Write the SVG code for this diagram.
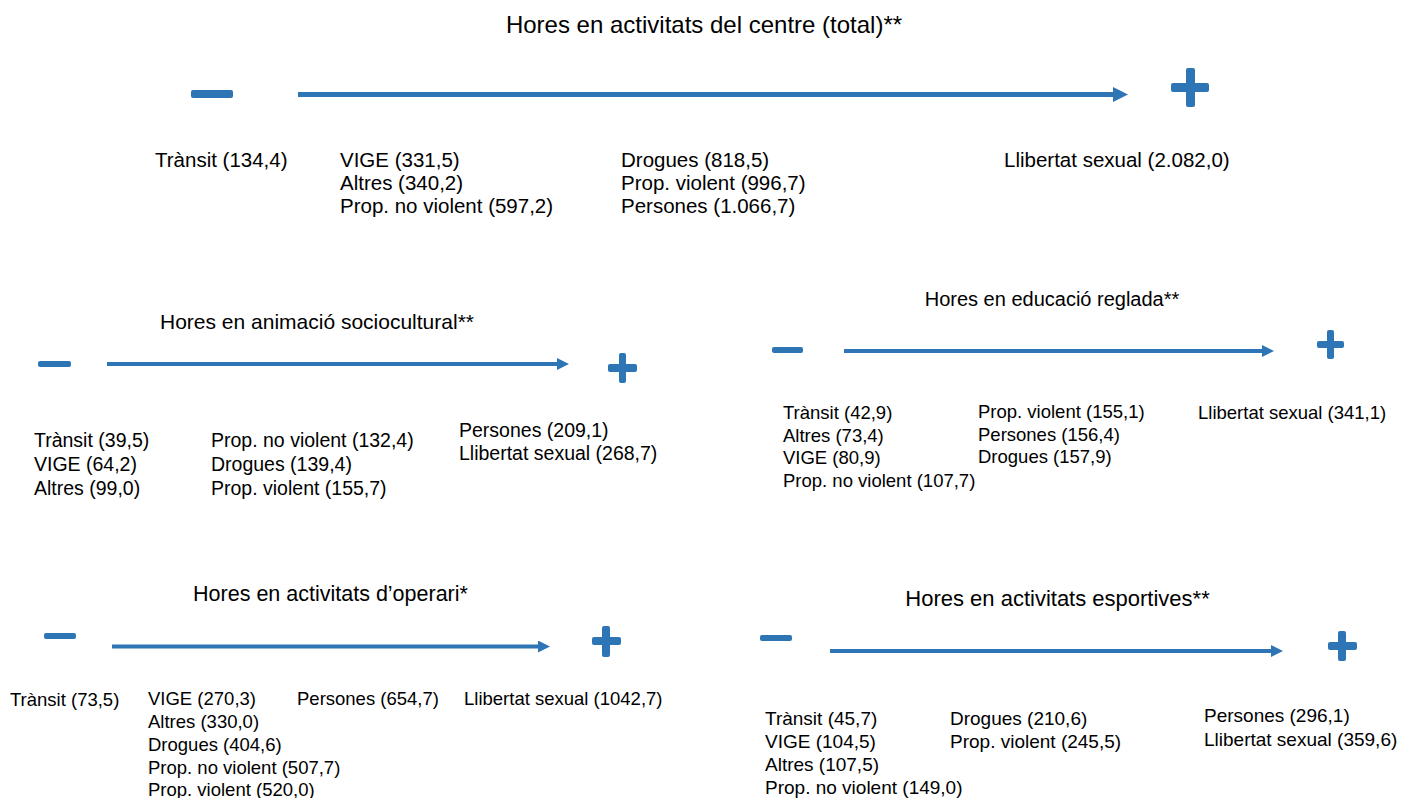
<svg xmlns="http://www.w3.org/2000/svg" width="1401" height="798" viewBox="0 0 1401 798">
<defs>
<style>
text{font-family:"Liberation Sans",Arial,sans-serif;fill:#000}
.t{text-anchor:middle}
.sym{fill:#2E75B6}
.ax{stroke:#2E75B6;fill:none}
</style>
<marker id="ah" markerWidth="3" markerHeight="3" refX="0" refY="1.5" orient="auto" markerUnits="strokeWidth">
<path d="M0,0 L3,1.5 L0,3 z" fill="#2E75B6"/>
</marker>
</defs>
<rect width="1401" height="798" fill="#fff"/>

<g id="connectors">
<line class="ax" x1="298" y1="94.5" x2="1113" y2="94.5" stroke-width="5" marker-end="url(#ah)"/>
<line class="ax" x1="107" y1="364" x2="557" y2="364" stroke-width="4" marker-end="url(#ah)"/>
<line class="ax" x1="844" y1="351" x2="1262" y2="351" stroke-width="4" marker-end="url(#ah)"/>
<line class="ax" x1="112" y1="646.5" x2="538" y2="646.5" stroke-width="4" marker-end="url(#ah)"/>
<line class="ax" x1="830" y1="651" x2="1271" y2="651" stroke-width="4" marker-end="url(#ah)"/>
</g>

<g id="total">
<text class="t" x="704" y="33" font-size="24">Hores en activitats del centre (total)**</text>
<rect class="sym" x="191" y="90" width="42" height="8" rx="2"/>
<g class="sym"><rect x="1171" y="83" width="38" height="9" rx="2"/><rect x="1186" y="68" width="9" height="39" rx="2"/></g>
<g font-size="20.5">
<text x="155" y="167">Trànsit (134,4)</text>
<text x="340" y="167">VIGE (331,5)</text>
<text x="340" y="190">Altres (340,2)</text>
<text x="340" y="213">Prop. no violent (597,2)</text>
<text x="621" y="167">Drogues (818,5)</text>
<text x="621" y="190">Prop. violent (996,7)</text>
<text x="621" y="213">Persones (1.066,7)</text>
<text x="1004" y="167">Llibertat sexual (2.082,0)</text>
</g>
</g>

<g id="animacio">
<text class="t" x="317" y="329" font-size="21">Hores en animació sociocultural**</text>
<rect class="sym" x="38" y="361" width="33" height="6" rx="2"/>
<g class="sym"><rect x="608" y="364" width="29" height="8" rx="2"/><rect x="619" y="353" width="7" height="30" rx="2"/></g>
<g font-size="19.5">
<text x="34" y="447">Trànsit (39,5)</text>
<text x="34" y="471">VIGE (64,2)</text>
<text x="34" y="495">Altres (99,0)</text>
<text x="211" y="447">Prop. no violent (132,4)</text>
<text x="211" y="471">Drogues (139,4)</text>
<text x="211" y="495">Prop. violent (155,7)</text>
<text x="459" y="437">Persones (209,1)</text>
<text x="459" y="460">Llibertat sexual (268,7)</text>
</g>
</g>

<g id="educacio">
<text class="t" x="1052" y="306" font-size="20">Hores en educació reglada**</text>
<rect class="sym" x="772" y="347" width="31" height="6" rx="2"/>
<g class="sym"><rect x="1317" y="341" width="27" height="7" rx="2"/><rect x="1327" y="330" width="7" height="29" rx="2"/></g>
<g font-size="18.5">
<text x="783" y="419">Trànsit (42,9)</text>
<text x="783" y="442">Altres (73,4)</text>
<text x="783" y="464">VIGE (80,9)</text>
<text x="783" y="487">Prop. no violent (107,7)</text>
<text x="978" y="418">Prop. violent (155,1)</text>
<text x="978" y="441">Persones (156,4)</text>
<text x="978" y="463">Drogues (157,9)</text>
<text x="1198" y="419">Llibertat sexual (341,1)</text>
</g>
</g>

<g id="operari">
<text class="t" x="330.5" y="601" font-size="21.5">Hores en activitats d’operari*</text>
<rect class="sym" x="44" y="633" width="32" height="6" rx="2"/>
<g class="sym"><rect x="592" y="637" width="29" height="8" rx="2"/><rect x="602" y="626" width="8" height="31" rx="2"/></g>
<g font-size="18.5">
<text x="10" y="706">Trànsit (73,5)</text>
<text x="148" y="705">VIGE (270,3)</text>
<text x="148" y="728">Altres (330,0)</text>
<text x="148" y="751">Drogues (404,6)</text>
<text x="148" y="774">Prop. no violent (507,7)</text>
<text x="148" y="796">Prop. violent (520,0)</text>
<text x="297" y="705">Persones (654,7)</text>
<text x="464" y="705">Llibertat sexual (1042,7)</text>
</g>
</g>

<g id="esportives">
<text class="t" x="1057.5" y="606" font-size="22">Hores en activitats esportives**</text>
<rect class="sym" x="760" y="635" width="32" height="6" rx="2"/>
<g class="sym"><rect x="1328" y="642" width="29" height="8" rx="2"/><rect x="1338" y="631" width="8" height="30" rx="2"/></g>
<g font-size="19">
<text x="765" y="725">Trànsit (45,7)</text>
<text x="765" y="748">VIGE (104,5)</text>
<text x="765" y="771">Altres (107,5)</text>
<text x="765" y="794">Prop. no violent (149,0)</text>
<text x="950" y="725">Drogues (210,6)</text>
<text x="950" y="748">Prop. violent (245,5)</text>
<text x="1204" y="722">Persones (296,1)</text>
<text x="1204" y="746">Llibertat sexual (359,6)</text>
</g>
</g>
</svg>
